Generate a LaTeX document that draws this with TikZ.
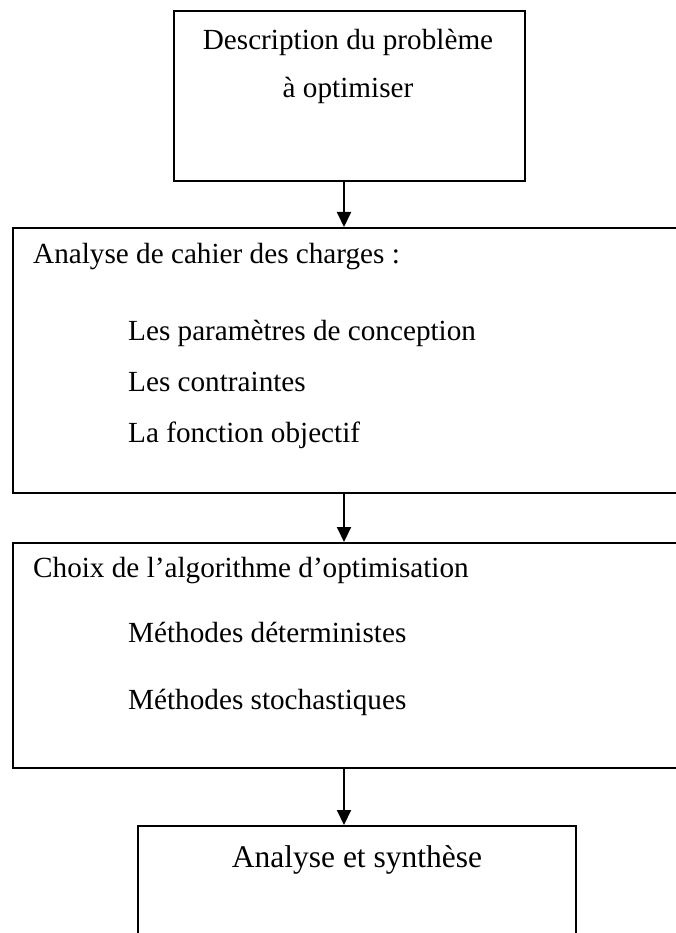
\documentclass[tikz,border=0pt]{standalone}
\usepackage{fontspec}
\setmainfont{Liberation Serif}
\usetikzlibrary{arrows.meta}
\begin{document}
\begin{tikzpicture}[x=1pt,y=-1pt,
  frame/.style={draw=black, line width=2pt, rectangle, inner sep=0pt, anchor=north west},
  txt/.style={inner sep=0pt, font=\fontsize{29.2pt}{35pt}\selectfont},
  bigtxt/.style={inner sep=0pt, font=\fontsize{31.5pt}{38pt}\selectfont},
  arr/.style={draw=black, line width=2pt, -{Triangle[length=15pt,width=14pt]}}]
  \useasboundingbox (0,0) rectangle (676,933);
  \fill[white] (0,0) rectangle (676,933);
  \clip (0,0) rectangle (676,933);

  % boxes
  \node[frame, minimum width=351pt, minimum height=170pt] (b1) at (173,10) {};
  \node[frame, minimum width=688pt, minimum height=265pt] (b2) at (12,227) {};
  \node[frame, minimum width=688pt, minimum height=225pt] (b3) at (12,542) {};
  \node[frame, minimum width=438pt, minimum height=135pt] (b4) at (137,825) {};

  % box texts
  \node[txt, anchor=base] (t1a) at (348,50) {Description du problème};
  \node[txt, anchor=base] (t1b) at (348,98) {à optimiser};

  \node[txt, anchor=base west] (t2a) at (33,263) {Analyse de cahier des charges :};
  \node[txt, anchor=base west] (t2b) at (128,340) {Les paramètres de conception};
  \node[txt, anchor=base west] (t2c) at (128,391) {Les contraintes};
  \node[txt, anchor=base west] (t2d) at (128,442) {La fonction objectif};

  \node[txt, anchor=base west] (t3a) at (33,577) {Choix de l’algorithme d’optimisation};
  \node[txt, anchor=base west] (t3b) at (128,642) {Méthodes déterministes};
  \node[txt, anchor=base west] (t3c) at (128,709) {Méthodes stochastiques};

  \node[bigtxt, anchor=base] (t4) at (357,867) {Analyse et synthèse};

  % connectors
  \coordinate (ax) at (344,0);
  \draw[arr] (ax |- b1.south) -- (ax |- b2.north);
  \draw[arr] (ax |- b2.south) -- (ax |- b3.north);
  \draw[arr] (ax |- b3.south) -- (ax |- b4.north);
\end{tikzpicture}
\end{document}
